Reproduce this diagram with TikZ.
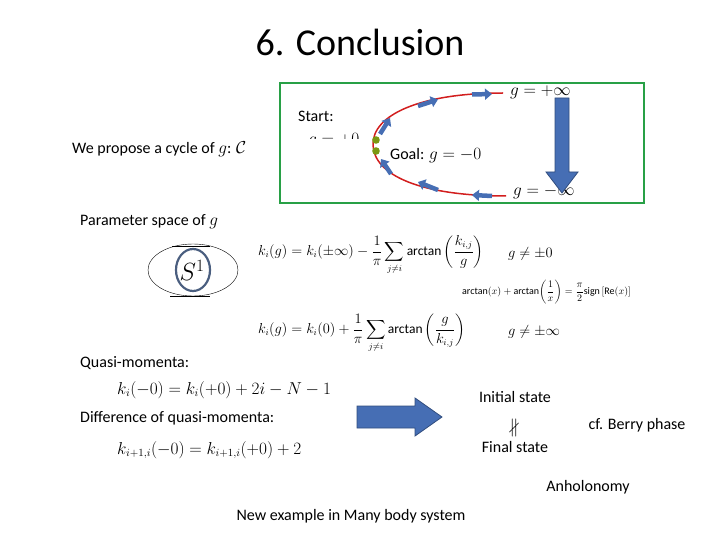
\documentclass[tikz,border=0pt]{standalone}
\usepackage{fontspec}
\usepackage{amsmath,amssymb}
\setmainfont{Carlito}
\usetikzlibrary{arrows.meta}
\definecolor{gbox}{RGB}{40,160,70}
\definecolor{barrow}{RGB}{70,110,180}
\definecolor{rcurve}{RGB}{210,30,30}
\tikzset{txt/.style={inner sep=0pt,font=\fontsize{16}{19}\selectfont},
 fml/.style={inner sep=0pt,font=\fontsize{13.5}{16}\selectfont},
 blockarr/.style={fill=barrow,draw=barrow!70!black,line width=0.8pt},
 smallarr/.style={draw=barrow,line width=4.5pt,-{Triangle[width=11pt,length=7pt]}}}
\begin{document}
\begin{tikzpicture}[x=1pt,y=-1pt]
\useasboundingbox (0,0) rectangle (720,540);
\node (title) at (360,42) {\fontsize{38}{44}\selectfont 6. Conclusion};
\node[txt,anchor=west] (cyc) at (72,149) {We propose a cycle of $g$: $\mathcal{C}$};
\draw[gbox,line width=2.5pt] (280,83) rectangle (644,203);
\node[txt,anchor=west] (start) at (298,116) {Start:};
\begin{scope}
\clip (290,128) rectangle (370,139);
\node[txt,anchor=west] (gp0) at (308,141) {$g=+0$};
\end{scope}
\draw[rcurve,line width=1.5pt] (503,93) .. controls (420,93) and (372,115) .. (373,145) .. controls (374,175) and (420,196) .. (506,196);
\draw[smallarr] (472,94.5) -- (492,94);
\draw[smallarr] (418,106) -- (438,99.5);
\draw[smallarr] (380,134) -- (390,118);
\draw[smallarr] (391,174) -- (381,159);
\draw[smallarr] (438,190) -- (418,182);
\draw[smallarr] (492,196) -- (472,195);
\fill[olive!70!green] (376,140) circle (3.8);
\fill[olive!70!green] (376,151) circle (3.8);
\node[txt,anchor=west] (goal) at (390,156) {Goal: $g=-0$};
\node[txt,anchor=west] (gpinf) at (510,92) {$g=+\infty$};
\node[txt,anchor=west] (gminf) at (513,192) {$g=-\infty$};
\draw[blockarr] (555,98) -- (569,98) -- (569,172) -- (578,172) -- (562,193) -- (546,172) -- (555,172) -- cycle;
\node[txt,anchor=west] (param) at (80,222) {Parameter space of $g$};
\draw (193,270) ellipse (45 and 26);
\draw (172,246) -- (210,246);
\draw (170,296) -- (210,296);
\draw[barrow!60!gray!80!black,line width=2.2pt] (193,270) ellipse (17 and 21);
\node[inner sep=0pt,font=\fontsize{24}{26}\selectfont] (S1) at (192,270) {$S^1$};
\node[fml,anchor=west] (f1) at (258,255) {$k_i(g)=k_i(\pm\infty)-\dfrac{1}{\pi}\displaystyle\sum_{j\neq i}\text{arctan}\left(\frac{k_{i,j}}{g}\right)$};
\node[fml,anchor=west,font=\fontsize{15}{17}\selectfont] (c1) at (508,254) {$g\neq\pm0$};
\node[fml,anchor=west,font=\fontsize{10}{12}\selectfont] (id) at (462,292) {arctan$(x)+{}$arctan$\left(\dfrac{1}{x}\right)=\dfrac{\pi}{2}$sign$\,[\text{Re}(x)]$};
\node[fml,anchor=west] (f2) at (258,333) {$k_i(g)=k_i(0)+\dfrac{1}{\pi}\displaystyle\sum_{j\neq i}\text{arctan}\left(\frac{g}{k_{i,j}}\right)$};
\node[fml,anchor=west,font=\fontsize{15}{17}\selectfont] (c2) at (508,332) {$g\neq\pm\infty$};
\node[txt,anchor=west] (qm) at (80,363) {Quasi-momenta:};
\node[txt,anchor=west] (f3) at (117,390) {$k_i(-0)=k_i(+0)+2i-N-1$};
\node[txt,anchor=west] (dqm) at (80,418) {Difference of quasi-momenta:};
\node[txt,anchor=west] (f4) at (117,450) {$k_{i+1,i}(-0)=k_{i+1,i}(+0)+2$};
\draw[blockarr] (357,406) -- (415,406) -- (415,398) -- (442,417) -- (415,436) -- (415,428) -- (357,428) -- cycle;
\node[txt,anchor=center] (init) at (515,397) {Initial state};
\node[inner sep=0pt,font=\fontsize{18}{20}\selectfont] (np) at (514,428) {$\nparallel$};
\node[txt,anchor=center] (fin) at (515,447) {Final state};
\node[txt,anchor=center] (berry) at (637,425) {cf. Berry phase};
\node[txt,anchor=center] (anh) at (588,487) {Anholonomy};
\node[txt,anchor=center] (newex) at (351,516) {New example in Many body system};
\end{tikzpicture}
\end{document}
